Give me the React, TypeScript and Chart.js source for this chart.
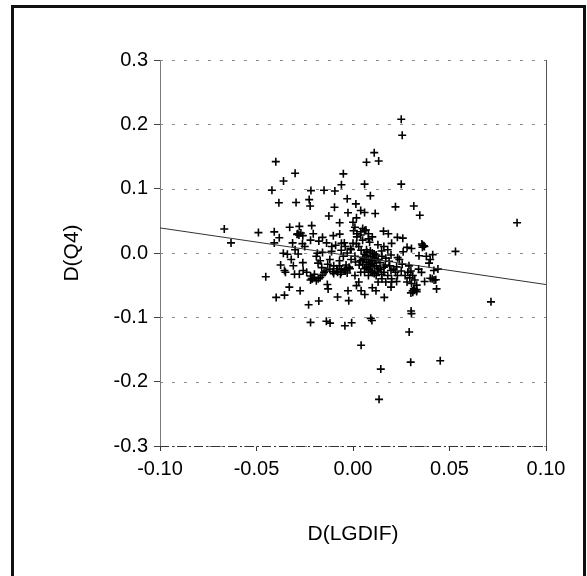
import { useEffect, useRef } from "react";
import { Chart, registerables } from "chart.js";

Chart.register(...registerables);

const xTicks = [-0.1, -0.05, 0, 0.05, 0.1];
const yTicks = [-0.3, -0.2, -0.1, 0, 0.1, 0.2, 0.3];
const xTitle = "D(LGDIF)";
const yTitle = "D(Q4)";

// D(LGDIF) values (x) and D(Q4) values (y), same order
const dLgdif = [
  0.025, 0.0255, 0.011, 0.0133, 0.007, -0.040, -0.030, -0.005, -0.036, -0.006,
  0.006, 0.025, -0.042, -0.0218, -0.015, -0.0094, 0.009, -0.0227, -0.0384, -0.0295,
  -0.0222, -0.0096, 0.022, 0.0315, -0.003, 0.0015, 0.004, 0.006, 0.0115, 0.0346,
  -0.0026, -0.0125, 0.085, -0.0069, 0.000, 0.0018, -0.0214, -0.0328, -0.0667, -0.049,
  -0.0408, -0.0286, -0.0278, -0.0206, -0.0158, -0.0102, -0.0069, 0.0003, 0.0067, 0.0158,
  0.0183, 0.023, 0.0258, -0.0632, -0.0382, -0.0408, -0.0313, -0.0262, -0.0177, -0.0137,
  -0.0045, 0.0018, 0.0086, 0.0129, 0.028, 0.0303, 0.0357, 0.0367, 0.0531, 0.0413,
  -0.0361, -0.034, -0.0284, -0.0185, -0.0158, -0.0111, -0.0061, -0.0013, 0.0042, 0.0071,
  0.011, 0.0148, 0.0197, 0.0231, 0.0342, -0.0452, -0.0375, -0.0355, -0.0309, -0.0303,
  -0.0278, -0.0258, -0.022, -0.0214, -0.020, -0.0181, -0.0162, -0.015, -0.0131, -0.0104,
  -0.0084, -0.0065, -0.0045, -0.0036, -0.0016, 0.0013, 0.0032, 0.0051, 0.0061, 0.008,
  0.009, 0.010, 0.0119, 0.0129, 0.0148, 0.0167, 0.0187, 0.0197, 0.0226, 0.0255,
  0.0284, 0.0294, 0.0303, 0.0309, 0.0315, 0.0394, 0.0419, 0.0429, 0.040, 0.0433,
  0.0355, 0.0371, 0.0715, -0.0398, -0.0355, -0.033, -0.0274, -0.023, -0.0177, -0.0133,
  -0.0129, -0.008, -0.0022, -0.0026, 0.0018, 0.0042, 0.0061, 0.010, 0.0119, 0.0162,
  0.0197, 0.0226, -0.022, -0.0138, -0.0119, -0.0042, -0.0007, 0.0092, 0.0098, 0.0301,
  0.0303, 0.0291, 0.0042, 0.0299, 0.0452, 0.0144, 0.0135,
  0.005, 0.007, 0.009, 0.010, 0.011, 0.008, 0.012, 0.006, 0.004, 0.013,
  0.014, 0.009, 0.010, 0.007, 0.003, 0.005, 0.008, 0.010, 0.002, 0.004,
  0.001, 0.006, 0.016, 0.018, 0.020, 0.017, 0.015, 0.018, 0.020, 0.013,
  0.016, 0.022, 0.024, 0.026, 0.003, 0.001,
  -0.006, -0.004, -0.002, -0.008, -0.010, -0.007, -0.005, -0.003, -0.001, -0.012,
  -0.014, -0.016, -0.018, -0.020, -0.022, -0.019, -0.017, -0.011, -0.009, -0.006,
  -0.004, -0.001, 0.000, 0.001, -0.024, -0.026, -0.030, -0.028, -0.027, -0.025,
  -0.022, -0.032, -0.035,
  0.029, 0.030, 0.031, 0.032, 0.033, 0.032, 0.030, 0.033, 0.028, 0.027,
  0.034, 0.036, 0.037, 0.038, 0.040, 0.041, 0.042, 0.044,
  0.006, 0.008, 0.010, 0.012, 0.007, 0.009, 0.011, 0.013, 0.005, 0.004,
  0.014, 0.016, 0.012, 0.008, 0.006, 0.010, 0.011, 0.009, 0.007, 0.015,
  -0.021, -0.019, -0.017, -0.008, -0.006, -0.004, -0.007, -0.010, -0.012, -0.003,
  -0.029, -0.026, 0.019, 0.021, 0.023, 0.020, 0.025, 0.017, 0.036, 0.031,
  0.033, 0.002, 0.004, 0.005, 0.008,
];

const dQ4 = [
  0.208, 0.183, 0.156, 0.143, 0.141, 0.142, 0.124, 0.123, 0.112, 0.106,
  0.107, 0.107, 0.0975, 0.097, 0.0975, 0.0963, 0.089, 0.083, 0.078, 0.0786,
  0.073, 0.071, 0.0717, 0.073, 0.0843, 0.0763, 0.066, 0.063, 0.0614, 0.0586,
  0.0626, 0.0574, 0.047, 0.047, 0.0477, 0.0546, 0.0426, 0.040, 0.0374, 0.0317,
  0.0329, 0.030, 0.0414, 0.030, 0.0243, 0.027, 0.0294, 0.0346, 0.0357, 0.034,
  0.030, 0.0243, 0.0231, 0.0157, 0.0237, 0.0157, 0.0157, 0.0145, 0.0185, 0.0157,
  0.0157, 0.0145, 0.0168, 0.0128, 0.0088, 0.007, 0.014, 0.0111, 0.0025, -0.0026,
  -0.0003, -0.002, -0.0015, -0.0003, 0.0008, 0.0025, 0.0042, 0.007, 0.0042, 0.0014,
  -0.0015, 0.003, -0.0032, -0.0072, -0.0043, -0.037, -0.0187, -0.0272, -0.0198, -0.033,
  -0.033, -0.0272, -0.0358, -0.0398, -0.033, -0.0158, -0.0227, -0.0301, -0.0175, -0.029,
  -0.0244, -0.033, -0.0272, -0.0187, -0.0244, -0.0141, -0.0187, -0.0072, -0.0244, -0.0141,
  -0.0215, -0.0301, -0.0101, -0.0244, -0.033, -0.0187, -0.0129, -0.0272, -0.0215, -0.0175,
  -0.0301, -0.0387, -0.0473, -0.0587, -0.0558, -0.0158, -0.0272, -0.0415, -0.0392, -0.0558,
  -0.0301, -0.0444, -0.0759, -0.069, -0.0655, -0.053, -0.0587, -0.0804, -0.0747, -0.049,
  -0.0558, -0.0684, -0.0741, -0.0587, -0.0507, -0.0587, -0.0644, -0.0541, -0.0587, -0.069,
  -0.053, -0.0444, -0.1079, -0.1062, -0.109, -0.113, -0.1085, -0.1016, -0.105, -0.0902,
  -0.0942, -0.1228, -0.1434, -0.1697, -0.1674, -0.1805, -0.2275,
  -0.010, -0.015, -0.005, -0.012, -0.020, -0.025, -0.003, -0.002, -0.030, -0.028,
  -0.015, -0.018, -0.030, 0.005, 0.010, 0.020, 0.022, 0.025, 0.025, 0.033,
  0.040, 0.035, 0.010, 0.005, 0.015, -0.008, -0.040, -0.035, -0.045, -0.045,
  -0.022, -0.030, -0.010, 0.002, -0.045, -0.035,
  -0.025, -0.028, -0.022, -0.030, -0.020, -0.012, -0.005, 0.000, -0.010, -0.010,
  -0.028, -0.035, -0.040, -0.038, -0.042, -0.005, -0.012, 0.010, 0.012, 0.015,
  0.010, 0.005, 0.015, -0.005, -0.030, -0.015, 0.005, 0.028, 0.031, 0.010,
  0.020, -0.010, -0.030,
  -0.020, -0.028, -0.035, -0.042, -0.050, -0.058, -0.062, -0.060, -0.045, -0.035,
  -0.025, 0.012, 0.010, -0.005, -0.010, -0.040, -0.042, -0.025,
  -0.008, -0.010, -0.016, -0.020, -0.022, -0.028, -0.032, -0.010, -0.018, -0.012,
  -0.025, -0.030, -0.035, -0.035, -0.030, 0.000, -0.008, 0.003, -0.004, -0.005,
  -0.040, -0.043, -0.038, -0.028, -0.030, -0.025, -0.020, -0.032, -0.025, -0.031,
  0.029, 0.027, -0.020, -0.025, -0.035, -0.040, -0.028, -0.045, 0.009, -0.061,
  -0.057, 0.030, 0.028, 0.038, 0.030,
];

// fitted regression line end points
const fitX = [-0.1, 0.1];
const fitY = [0.039, -0.049];

const FONT = "'Liberation Sans', Arial, sans-serif";

const framePlugin = {
  id: "framePlugin",
  beforeDatasetsDraw(chart: any) {
    const { ctx, chartArea: a, scales } = chart;
    const ys = scales.y;
    ctx.save();
    ctx.lineWidth = 1;
    ctx.strokeStyle = "#8c8c8c";
    ctx.setLineDash([3, 9]);
    for (const v of yTicks) {
      const py = Math.round(ys.getPixelForValue(v)) + 0.5;
      ctx.beginPath();
      ctx.moveTo(a.left, py);
      ctx.lineTo(a.right, py);
      ctx.stroke();
    }
    ctx.setLineDash([]);
    ctx.strokeStyle = "#7a7a7a";
    ctx.beginPath();
    ctx.moveTo(Math.round(a.left) + 0.5, a.top);
    ctx.lineTo(Math.round(a.left) + 0.5, a.bottom);
    ctx.stroke();
    ctx.strokeStyle = "#555";
    ctx.beginPath();
    ctx.moveTo(Math.round(a.right) + 0.5, a.top);
    ctx.lineTo(Math.round(a.right) + 0.5, a.bottom);
    ctx.stroke();
    ctx.strokeStyle = "#333";
    ctx.setLineDash([9, 3, 2, 3]);
    ctx.beginPath();
    ctx.moveTo(a.left, Math.round(a.bottom) + 0.5);
    ctx.lineTo(a.right, Math.round(a.bottom) + 0.5);
    ctx.stroke();
    ctx.restore();
  },
  afterDraw(chart: any) {
    const { ctx, width, height } = chart;
    ctx.save();
    ctx.strokeStyle = "#111";
    ctx.lineWidth = 3;
    ctx.beginPath();
    ctx.moveTo(12.5, height);
    ctx.lineTo(12.5, 6.5);
    ctx.lineTo(width - 2.5, 6.5);
    ctx.lineTo(width - 2.5, height);
    ctx.stroke();
    ctx.restore();
  },
};

export default function App() {
  const ref = useRef<HTMLCanvasElement | null>(null);

  useEffect(() => {
    if (!ref.current) return;
    const points = dLgdif.map((x, i) => ({ x, y: dQ4[i] }));
    const fit = fitX.map((x, i) => ({ x, y: fitY[i] }));
    const chart = new Chart(ref.current, {
      type: "scatter",
      data: {
        datasets: [
          {
            type: "line",
            data: fit,
            borderColor: "#333",
            borderWidth: 1,
            pointRadius: 0,
            fill: false,
          } as any,
          {
            data: points,
            pointStyle: "cross",
            pointRadius: 4,
            pointBorderWidth: 1.6,
            borderColor: "#000",
            backgroundColor: "#000",
          } as any,
        ],
      },
      options: {
        animation: false,
        responsive: false,
        maintainAspectRatio: false,
        layout: { padding: { left: 60, right: 41, top: 60, bottom: 0 } },
        plugins: { legend: { display: false }, tooltip: { enabled: false } },
        scales: {
          x: {
            type: "linear",
            min: -0.1,
            max: 0.1,
            afterFit: (s: any) => {
              s.height = 130;
            },
            afterBuildTicks: (s: any) => {
              s.ticks = xTicks.map((v) => ({ value: v }));
            },
            ticks: {
              padding: 6,
              color: "#000",
              font: { family: FONT, size: 20 },
              callback: (v: any) => Number(v).toFixed(2),
            },
            grid: {
              display: true,
              drawOnChartArea: false,
              drawTicks: true,
              tickLength: 5,
              tickColor: "#333",
              tickBorderDash: [],
            },
            border: { display: false },
            title: {
              display: true,
              text: xTitle,
              color: "#000",
              font: { family: FONT, size: 21 },
              padding: { top: 0, bottom: 29 },
            },
          },
          y: {
            type: "linear",
            min: -0.3,
            max: 0.3,
            afterFit: (s: any) => {
              s.width = 100;
            },
            afterBuildTicks: (s: any) => {
              s.ticks = yTicks.map((v) => ({ value: v }));
            },
            ticks: {
              padding: 6,
              color: "#000",
              font: { family: FONT, size: 20 },
              callback: (v: any) => Number(v).toFixed(1),
            },
            grid: {
              display: true,
              drawOnChartArea: false,
              drawTicks: true,
              tickLength: 6,
              tickColor: "#444",
              tickBorderDash: [],
            },
            border: { display: false },
            title: {
              display: true,
              text: yTitle,
              color: "#000",
              font: { family: FONT, size: 21 },
              padding: { top: 0, bottom: 0 },
            },
          },
        },
      },
      plugins: [framePlugin],
    });
    return () => chart.destroy();
  }, []);

  return (
    <div style={{ position: "fixed", left: 0, top: 0, width: 587, height: 576, background: "#fff" }}>
      <canvas ref={ref} width={587} height={576} style={{ width: 587, height: 576, display: "block" }} />
    </div>
  );
}
